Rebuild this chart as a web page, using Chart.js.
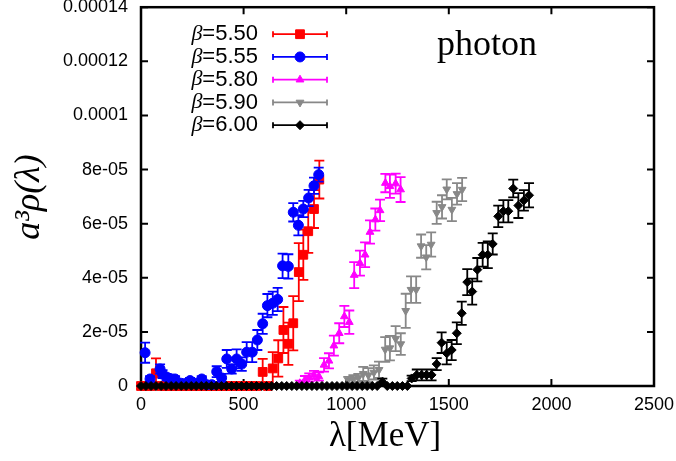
<!DOCTYPE html>
<html>
<head>
<meta charset="utf-8">
<script src="https://cdn.jsdelivr.net/npm/chart.js@4/dist/chart.umd.min.js"></script>
<style>
  html, body { margin: 0; padding: 0; background: #fff; }
  canvas { display: block; }
</style>
</head>
<body>
<canvas id="spectrum" width="676" height="461"></canvas>
<script>
// Spectral function a^3 rho(lambda) of the photon channel for five couplings.
const betaValues = ['5.50', '5.55', '5.80', '5.90', '6.00'];
const xTicks = [0, 500, 1000, 1500, 2000, 2500];
const yTickLabels = ['0', '2e-05', '4e-05', '6e-05', '8e-05', '0.0001', '0.00012', '0.00014'];

// beta = 5.50
const zeroLam5_50 = [0, 24, 49, 98, 122, 147, 171, 196, 220, 245, 269, 294, 318, 343, 367, 392, 416, 441, 465, 490, 514, 539, 563, 618];
const lam5_50 = [73, 593, 642, 669, 694, 718, 742, 769, 791, 815, 843, 869];
const rho5_50 = [4.7e-6, 5.2e-6, 6.5e-6, 1.02e-5, 2.07e-5, 1.56e-5, 2.32e-5, 4.21e-5, 4.85e-5, 5.72e-5, 6.54e-5, 7.63e-5];
const err5_50 = [5.5e-6, 4.8e-6, 6.0e-6, 6.7e-6, 8.5e-6, 7.8e-6, 1.0e-5, 1.07e-5, 9.3e-6, 8.0e-6, 7.0e-6, 7.0e-6];

// beta = 5.55
const zeroLam5_55 = [];
const lam5_55 = [20, 44, 93, 105, 125, 150, 166, 196, 220, 239, 269, 296, 320, 345, 369, 393, 418, 442, 466, 491, 515, 542, 567, 593, 616, 642, 666, 690, 718, 742, 767, 791, 817, 843, 866];
const rho5_55 = [1.23e-5, 2.6e-6, 6.3e-6, 4.4e-6, 3.3e-6, 2.6e-6, 2.6e-6, 1.0e-6, 1.0e-6, 2.0e-6, 1.0e-6, 2.6e-6, 5e-7, 5e-7, 5.3e-6, 3.0e-6, 1.0e-5, 6.3e-6, 1.0e-5, 8.1e-6, 1.25e-5, 1.25e-5, 1.7e-5, 2.3e-5, 2.97e-5, 3.06e-5, 3.2e-5, 4.44e-5, 4.42e-5, 6.42e-5, 5.94e-5, 6.54e-5, 6.95e-5, 7.4e-5, 7.81e-5];
const err5_55 = [3.7e-6, 1.0e-6, 1.7e-6, 1.5e-6, 1.2e-6, 1.0e-6, 1.0e-6, 8e-7, 8e-7, 1.0e-6, 8e-7, 1.0e-6, 8e-7, 8e-7, 2.0e-6, 1.5e-6, 3.3e-6, 1.7e-6, 3.5e-6, 2.5e-6, 3.7e-6, 3.7e-6, 3.7e-6, 3.7e-6, 4.3e-6, 4.3e-6, 4.3e-6, 4.5e-6, 4.5e-6, 3.4e-6, 3.7e-6, 3.0e-6, 3.0e-6, 3.0e-6, 2.6e-6];

// beta = 5.80
const zeroLam5_80 = [];
const lam5_80 = [774, 799, 820, 843, 867, 892, 916, 940, 966, 991, 1015, 1039, 1067, 1092, 1116, 1142, 1165, 1191, 1213, 1241, 1265];
const rho5_80 = [1.0e-6, 2.2e-6, 3.2e-6, 4.1e-6, 3.5e-6, 7.8e-6, 9.3e-6, 1.49e-5, 1.95e-5, 2.57e-5, 2.36e-5, 4.1e-5, 4.54e-5, 4.85e-5, 5.69e-5, 6.15e-5, 6.49e-5, 7.5e-5, 7.38e-5, 7.48e-5, 7.26e-5];
const err5_80 = [1.0e-6, 1.5e-6, 1.5e-6, 1.5e-6, 1.5e-6, 2.5e-6, 2.8e-6, 3.7e-6, 3.7e-6, 3.9e-6, 4.3e-6, 4.8e-6, 4.6e-6, 4.6e-6, 4.3e-6, 4.1e-6, 4.0e-6, 3.4e-6, 4.3e-6, 3.7e-6, 4.6e-6];

// beta = 5.90
const zeroLam5_90 = [];
const lam5_90 = [1010, 1035, 1059, 1083, 1108, 1135, 1160, 1190, 1213, 1241, 1266, 1290, 1316, 1341, 1365, 1390, 1414, 1441, 1467, 1490, 1515, 1540, 1565];
const rho5_90 = [2.2e-6, 2.5e-6, 3.0e-6, 4.5e-6, 4.0e-6, 5.0e-6, 6.0e-6, 1.35e-5, 1.4e-5, 1.75e-5, 1.55e-5, 2.78e-5, 3.56e-5, 3.56e-5, 5.17e-5, 4.76e-5, 5.23e-5, 6.4e-5, 6.62e-5, 7.27e-5, 6.52e-5, 7.1e-5, 7.26e-5];
const err5_90 = [1.2e-6, 1.5e-6, 1.5e-6, 2.6e-6, 2.6e-6, 2.6e-6, 3.0e-6, 4.6e-6, 4.5e-6, 4.6e-6, 4.0e-6, 6.3e-6, 4.9e-6, 4.9e-6, 4.3e-6, 4.5e-6, 4.5e-6, 4.1e-6, 4.3e-6, 3.7e-6, 4.3e-6, 4.0e-6, 4.3e-6];

// beta = 6.00
const zeroLam6_00 = [0, 24, 49, 73, 98, 122, 147, 171, 196, 220, 245, 269, 294, 318, 343, 367, 392, 416, 441, 465, 490, 514, 539, 563, 588, 612, 637, 661, 686, 710, 735, 759, 784, 808, 833, 857, 882, 906, 931, 955, 980, 1004, 1029, 1053, 1078, 1102, 1127, 1151, 1200, 1225, 1249, 1274, 1298];
const lam6_00 = [1176, 1319, 1344, 1368, 1392, 1416, 1441, 1465, 1490, 1514, 1539, 1563, 1590, 1614, 1639, 1665, 1690, 1714, 1741, 1766, 1790, 1814, 1839, 1866, 1891];
const rho6_00 = [1.5e-6, 2.8e-6, 4.1e-6, 4.1e-6, 4.1e-6, 4.1e-6, 8.1e-6, 1.6e-5, 1.21e-5, 1.33e-5, 1.95e-5, 2.69e-5, 3.84e-5, 3.49e-5, 4.3e-5, 4.85e-5, 4.85e-5, 5.25e-5, 6.27e-5, 6.46e-5, 6.46e-5, 7.3e-5, 6.67e-5, 6.86e-5, 7.05e-5];
const err6_00 = [1.2e-6, 1.0e-6, 2.0e-6, 2.0e-6, 2.0e-6, 2.0e-6, 2.2e-6, 3.8e-6, 4.1e-6, 3.7e-6, 4.0e-6, 4.3e-6, 4.8e-6, 4.8e-6, 4.3e-6, 4.4e-6, 4.9e-6, 3.9e-6, 4.0e-6, 4.1e-6, 4.1e-6, 3.3e-6, 4.6e-6, 3.8e-6, 4.5e-6];

const SANS = "'Liberation Sans', Arial, sans-serif";
const SERIF = "'Liberation Serif', 'Times New Roman', serif";
const CAP = 5;     // half width of error bar caps
const TICK = 7;    // inward tick length

function makeSeries(beta, zeroLam, lam, rho, err, color, style, radius, rotation, order) {
    const points = zeroLam.map(x => ({ x: x, y: 0, e: 0 }))
        .concat(lam.map((x, i) => ({ x: x, y: rho[i], e: err[i] })));
    return {
        label: 'β=' + beta,
        data: points,
        pointStyle: style,
        pointRadius: radius,
        pointRotation: rotation,
        pointBorderWidth: 1,
        backgroundColor: color,
        borderColor: color,
        showLine: false,
        clip: false,
        order: order
    };
}

// vertical error bars, drawn just before each dataset's own markers
const errorBars = {
    id: 'errorBars',
    beforeDatasetDraw(chart, args) {
        const ds = chart.data.datasets[args.index];
        const xs = chart.scales.x, ys = chart.scales.y;
        const ctx = chart.ctx;
        ctx.save();
        ctx.strokeStyle = ds.borderColor;
        ctx.lineWidth = 1.8;
        ctx.beginPath();
        ds.data.forEach(p => {
            if (!p.e) return;
            const px = xs.getPixelForValue(p.x);
            const top = ys.getPixelForValue(p.y + p.e);
            const bot = ys.getPixelForValue(p.y - p.e);
            ctx.moveTo(px, top); ctx.lineTo(px, bot);
            ctx.moveTo(px - CAP, top); ctx.lineTo(px + CAP, top);
            ctx.moveTo(px - CAP, bot); ctx.lineTo(px + CAP, bot);
        });
        ctx.stroke();
        ctx.restore();
    }
};

// box around the plot with inward ticks on all four sides
const frame = {
    id: 'frame',
    beforeDatasetsDraw(chart) {
        const { ctx, chartArea: a, scales } = chart;
        ctx.save();
        ctx.strokeStyle = '#000';
        ctx.lineWidth = 2;
        ctx.beginPath();
        scales.x.ticks.forEach(t => {
            const px = scales.x.getPixelForValue(t.value);
            ctx.moveTo(px, a.bottom); ctx.lineTo(px, a.bottom - TICK);
            ctx.moveTo(px, a.top); ctx.lineTo(px, a.top + TICK);
        });
        scales.y.ticks.forEach(t => {
            const py = scales.y.getPixelForValue(t.value);
            ctx.moveTo(a.left, py); ctx.lineTo(a.left + TICK, py);
            ctx.moveTo(a.right, py); ctx.lineTo(a.right - TICK, py);
        });
        ctx.stroke();
        ctx.lineWidth = 2.5;
        ctx.strokeRect(a.left, a.top, a.right - a.left, a.bottom - a.top);
        ctx.restore();
    }
};

// key in the upper left corner, plus the channel name and axis titles
const annotations = {
    id: 'annotations',
    afterDraw(chart) {
        const { ctx, chartArea: a } = chart;
        ctx.save();
        ctx.textBaseline = 'middle';
        chart.data.datasets.forEach((ds, i) => {
            const y = a.top + 27 + i * 22.75;
            const rest = ds.label.slice(1);
            ctx.fillStyle = '#000';
            ctx.textAlign = 'right';
            ctx.font = '22px ' + SANS;
            ctx.fillText(rest, a.left + 117, y);
            const w = ctx.measureText(rest).width;
            ctx.font = 'italic 22px ' + SERIF;
            ctx.fillText('β', a.left + 117 - w, y);

            const x0 = a.left + 132, x1 = a.left + 186;
            ctx.strokeStyle = ds.borderColor;
            ctx.lineWidth = 1.8;
            ctx.beginPath();
            ctx.moveTo(x0, y); ctx.lineTo(x1, y);
            ctx.moveTo(x0, y - 3); ctx.lineTo(x0, y + 3);
            ctx.moveTo(x1, y - 3); ctx.lineTo(x1, y + 3);
            ctx.stroke();
            ctx.fillStyle = ds.backgroundColor;
            ctx.lineWidth = 1;
            Chart.helpers.drawPoint(ctx, {
                pointStyle: ds.pointStyle,
                radius: ds.pointRadius,
                rotation: ds.pointRotation,
                borderWidth: 1
            }, (x0 + x1) / 2, y);
        });

        ctx.fillStyle = '#000';
        ctx.textAlign = 'left';
        ctx.font = '36px ' + SERIF;
        ctx.fillText('photon', a.left + 296, a.top + 38);

        ctx.textAlign = 'center';
        ctx.font = '35px ' + SERIF;
        ctx.fillText('λ[MeV]', 385, 437);

        ctx.translate(30, 197);
        ctx.rotate(-Math.PI / 2);
        ctx.font = 'italic 36px ' + SERIF;
        ctx.fillText('a³ρ(λ)', 0, 0);
        ctx.restore();
    }
};

const datasets = [
    makeSeries(betaValues[0], zeroLam5_50, lam5_50, rho5_50, err5_50, '#ff0000', 'rect', 6.2, 0, 5),
    makeSeries(betaValues[1], zeroLam5_55, lam5_55, rho5_55, err5_55, '#0000ff', 'circle', 5, 0, 4),
    makeSeries(betaValues[2], zeroLam5_80, lam5_80, rho5_80, err5_80, '#ff00ff', 'triangle', 4.5, 0, 3),
    makeSeries(betaValues[3], zeroLam5_90, lam5_90, rho5_90, err5_90, '#888888', 'triangle', 4.5, 180, 2),
    makeSeries(betaValues[4], zeroLam6_00, lam6_00, rho6_00, err6_00, '#000000', 'rectRot', 4.5, 0, 1)
];

new Chart(document.getElementById('spectrum'), {
    type: 'scatter',
    data: { datasets: datasets },
    plugins: [errorBars, frame, annotations],
    options: {
        responsive: false,
        animation: false,
        events: [],
        layout: { padding: { top: 7, right: 22, left: 0, bottom: 0 } },
        plugins: {
            legend: { display: false },
            tooltip: { enabled: false }
        },
        scales: {
            x: {
                type: 'linear',
                min: xTicks[0],
                max: xTicks[xTicks.length - 1],
                afterBuildTicks(scale) {
                    scale.ticks = xTicks.map(v => ({ value: v }));
                },
                ticks: {
                    color: '#000',
                    font: { family: SANS, size: 18 },
                    padding: 8,
                    maxRotation: 0,
                    callback: v => String(v)
                },
                grid: { display: false, drawTicks: false },
                border: { display: false },
                afterFit(scale) {
                    scale.height = 75;
                    scale.paddingLeft = 0;
                    scale.paddingRight = 0;
                }
            },
            y: {
                type: 'linear',
                min: 0,
                max: 1.4e-4,
                afterBuildTicks(scale) {
                    scale.ticks = yTickLabels.map((s, i) => ({ value: i * 2e-5 }));
                },
                ticks: {
                    color: '#000',
                    font: { family: SANS, size: 18 },
                    padding: 13,
                    callback: (v, i) => yTickLabels[i]
                },
                grid: { display: false, drawTicks: false },
                border: { display: false },
                afterFit(scale) {
                    scale.width = 141;
                    scale.paddingTop = 0;
                    scale.paddingBottom = 0;
                }
            }
        }
    }
});
</script>
</body>
</html>
